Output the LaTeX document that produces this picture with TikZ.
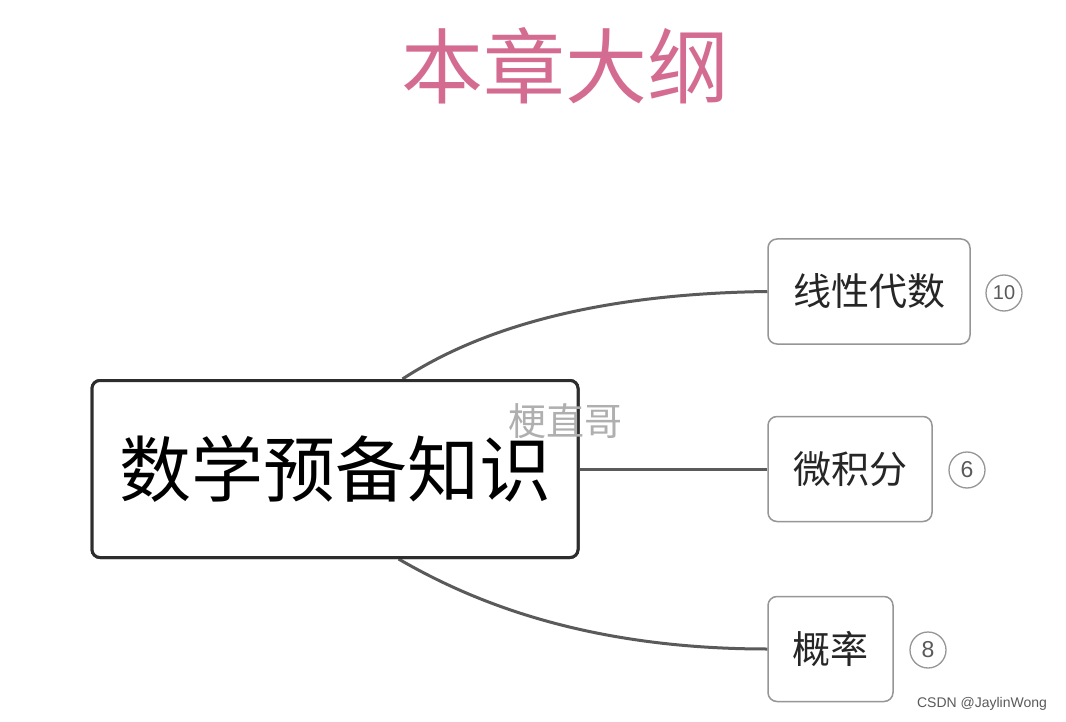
\documentclass[tikz,border=0pt]{standalone}
\usepackage{fontspec}
\setmainfont{Liberation Sans}
\newfontfamily\cjk{Noto Sans CJK SC}
\usetikzlibrary{calc}
\definecolor{titlepink}{RGB}{212,108,146}
\definecolor{linegray}{RGB}{90,90,90}
\definecolor{boxgray}{RGB}{150,150,150}
\definecolor{darkbox}{RGB}{45,45,45}
\definecolor{wmgray}{RGB}{175,175,175}
\definecolor{numgray}{RGB}{90,90,90}
\tikzset{
  mainbox/.style={draw=darkbox, line width=3pt, rounded corners=8pt, fill=white,
    minimum width=486pt, minimum height=177pt, inner sep=0pt,
    font=\cjk\fontsize{72}{72}\selectfont, text=black},
  subbox/.style={draw=boxgray, line width=1.5pt, rounded corners=9pt, fill=white,
    minimum height=105pt, inner sep=0pt,
    font=\cjk\fontsize{38}{38}\selectfont, text=black!85},
  conn/.style={draw=linegray, line width=3pt},
  numcirc/.style={circle, draw=boxgray, line width=1.3pt, minimum size=36pt, inner sep=0pt,
    font=\fontsize{23}{23}\selectfont, text=numgray},
}
\begin{document}
\begin{tikzpicture}[x=1pt,y=-1pt]
\useasboundingbox (0,0) rectangle (1066,722);
\fill[white] (0,0) rectangle (1066,722);
\node[font=\cjk\fontsize{82}{82}\selectfont, text=titlepink] (title) at (565,66) {本章大纲};
\node[mainbox] (c) at (335,469) {数学预备知识};
\node[subbox, minimum width=202pt] (a) at (869,291.5) {线性代数};
\node[subbox, minimum width=164pt] (b) at (850,469) {微积分};
\node[subbox, minimum width=125pt] (p) at (830.5,649) {概率};
\coordinate (ctop) at ($(c.north west)!0.638!(c.north east)$);
\coordinate (cbot) at ($(c.south west)!0.630!(c.south east)$);
\draw[conn] (ctop) .. controls (470,335) and (580,294) .. (a.west);
\draw[conn] (c.east) -- (b.west);
\draw[conn] (cbot) .. controls (466,598) and (580,649) .. (p.west);
\node[mainbox] at (c) {数学预备知识};
\node[numcirc, font=\fontsize{20}{20}\selectfont] (n1) at (1004,293) {10};
\node[numcirc] (n2) at (967,470) {6};
\node[numcirc] (n3) at (928,650) {8};
\node[font=\cjk\fontsize{38}{38}\selectfont, text=wmgray] (wm) at (565,421) {梗直哥};
\node[font=\fontsize{14}{14}\selectfont, text=numgray] (csdn) at (982,704) {CSDN @JaylinWong};
\end{tikzpicture}
\end{document}
